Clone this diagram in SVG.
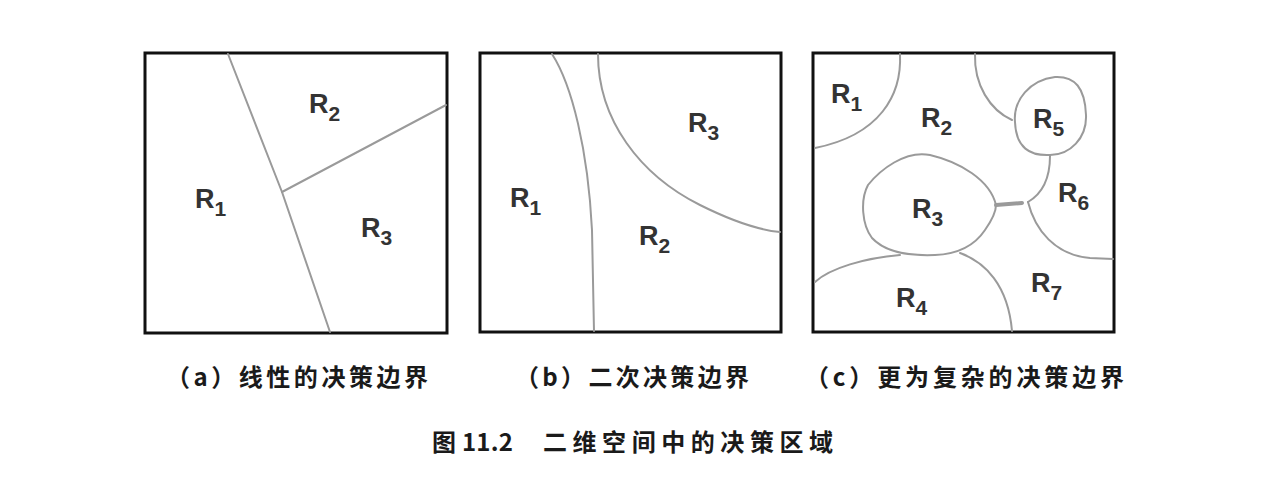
<svg xmlns="http://www.w3.org/2000/svg" width="1286" height="494" viewBox="0 0 1286 494">
<style>
.frame{fill:#fff;stroke:#111;stroke-width:3}
.bd{fill:none;stroke:#9a9a9a;stroke-width:2;stroke-linecap:round;stroke-linejoin:round}
.lab{font-family:"Liberation Sans",Arial,sans-serif;font-weight:bold;font-size:27px;fill:#333}
.sub{font-size:21px}
.cap{font-family:"Noto Sans CJK SC","Noto Sans",sans-serif;font-weight:bold;font-size:24px;fill:#1a1a1a}
</style>
<rect width="1286" height="494" fill="#fff"/>
<g id="panel-a">
  <rect class="frame" x="145" y="53" width="302" height="280"/>
  <text class="lab" x="195" y="208">R<tspan class="sub" dy="8">1</tspan></text>
  <text class="lab" x="309" y="113">R<tspan class="sub" dy="8">2</tspan></text>
  <text class="lab" x="361" y="237">R<tspan class="sub" dy="8">3</tspan></text>
</g>
<g id="panel-b">
  <rect class="frame" x="480" y="53" width="301" height="279"/>
  <text class="lab" x="510" y="207">R<tspan class="sub" dy="8">1</tspan></text>
  <text class="lab" x="639" y="245">R<tspan class="sub" dy="8">2</tspan></text>
  <text class="lab" x="688" y="132">R<tspan class="sub" dy="8">3</tspan></text>
</g>
<g id="panel-c">
  <rect class="frame" x="813" y="53" width="301" height="279"/>
  <text class="lab" x="831" y="103">R<tspan class="sub" dy="8">1</tspan></text>
  <text class="lab" x="921" y="127">R<tspan class="sub" dy="8">2</tspan></text>
  <text class="lab" x="912" y="218">R<tspan class="sub" dy="8">3</tspan></text>
  <text class="lab" x="896" y="307">R<tspan class="sub" dy="8">4</tspan></text>
  <text class="lab" x="1033" y="128">R<tspan class="sub" dy="8">5</tspan></text>
  <text class="lab" x="1058" y="202">R<tspan class="sub" dy="8">6</tspan></text>
  <text class="lab" x="1031" y="292">R<tspan class="sub" dy="8">7</tspan></text>
</g>
<g id="connectors">
  <path class="bd" d="M228,54 L282,192 L330,332"/>
  <path class="bd" d="M282,192 L446,105"/>
  <path class="bd" d="M552,54 C572,85 588,150 592,230 L594,331"/>
  <path class="bd" d="M598,54 C598,120 640,175 700,205 C730,220 760,230 780,232"/>
  <path class="bd" d="M900,54 C902,95 880,135 815,148"/>
  <path class="bd" d="M975,54 C974,85 990,110 1012,120"/>
  <path class="bd" d="M1015,122 C1013,100 1030,80 1055,77 C1075,76 1085,88 1086,115 C1087,138 1070,155 1050,155 C1030,156 1016,148 1015,122 Z"/>
  <path class="bd" d="M1050,156 C1050,175 1045,192 1028,202"/>
  <path class="bd" d="M996,205 L1022,203" style="stroke-width:4"/>
  <path class="bd" d="M1028,202 C1035,230 1055,255 1090,258 L1113,259"/>
  <path class="bd" d="M996,205 C990,180 960,162 930,155 C905,150 880,170 868,185 C860,200 862,225 872,238 C885,252 910,256 935,255 C960,254 975,245 985,230 C992,220 996,212 996,205 Z"/>
  <path class="bd" d="M815,282 C830,268 865,258 900,255"/>
  <path class="bd" d="M960,253 C985,262 1008,285 1012,331"/>
</g>
<g id="captions">
  <text class="cap" x="166" y="386" textLength="262" lengthAdjust="spacing">（a）线性的决策边界</text>
  <text class="cap" x="515" y="386" textLength="234" lengthAdjust="spacing">（b）二次决策边界</text>
  <text class="cap" x="805" y="386" textLength="319" lengthAdjust="spacing">（c）更为复杂的决策边界</text>
  <text class="cap" x="432" y="451" font-size="22" textLength="81" lengthAdjust="spacing">图 11.2</text>
  <text class="cap" x="543" y="451" textLength="290" lengthAdjust="spacing">二维空间中的决策区域</text>
</g>
</svg>
